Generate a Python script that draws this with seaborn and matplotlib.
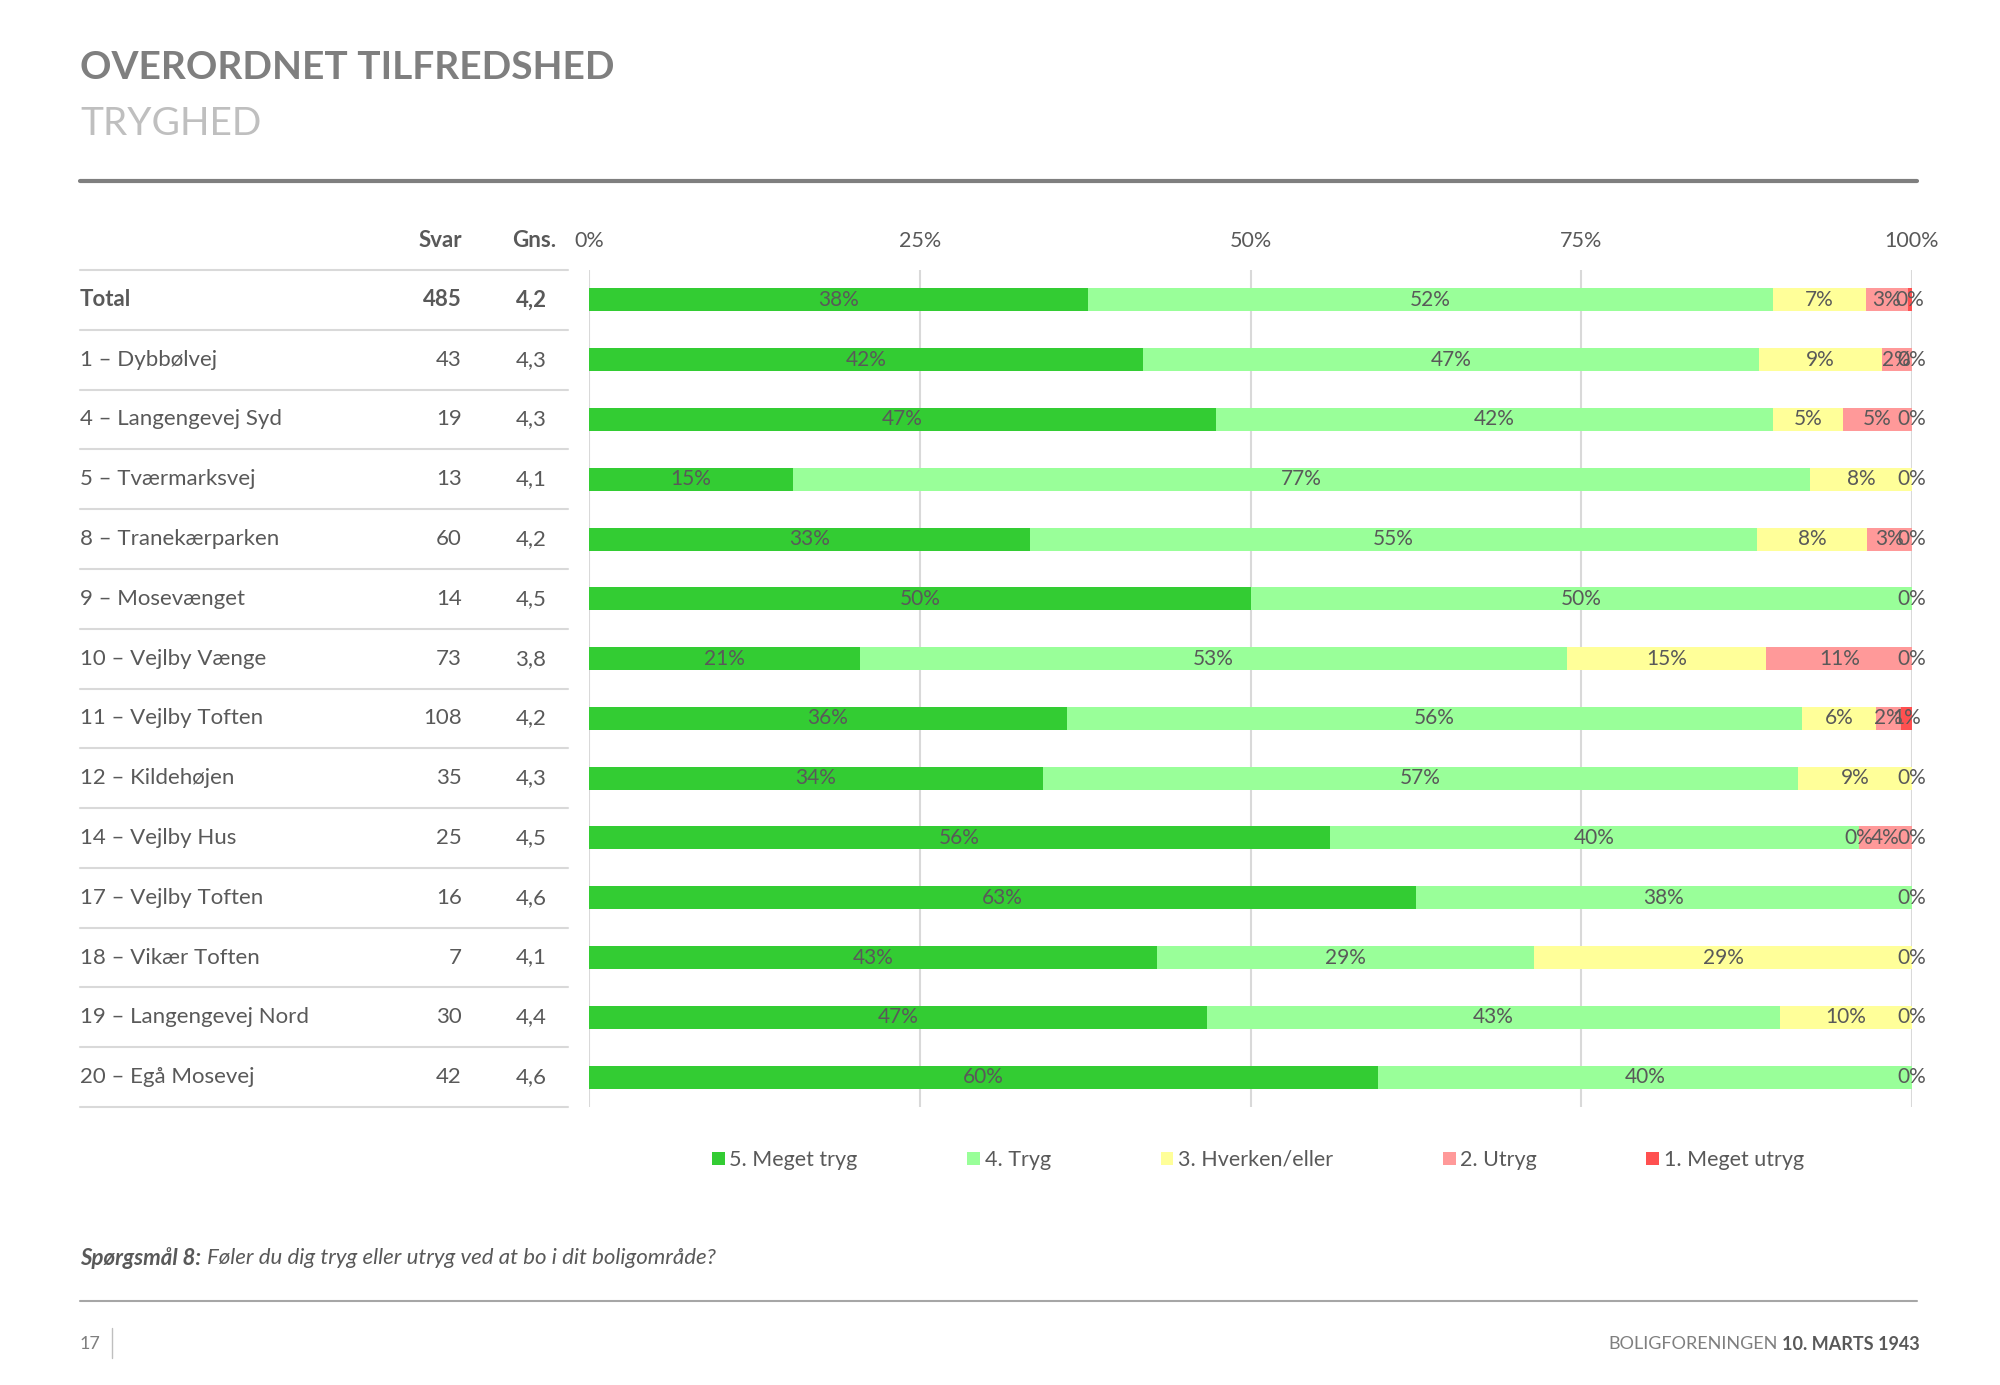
import numpy as np
import pandas as pd
import matplotlib
matplotlib.use("Agg")
import matplotlib.pyplot as plt
import seaborn as sns
from matplotlib.patches import Patch
from matplotlib.transforms import blended_transform_factory

# data
afdelinger = ["Total", "1 – Dybbølvej", "4 – Langengevej Syd", "5 – Tværmarksvej",
              "8 – Tranekærparken", "9 – Mosevænget", "10 – Vejlby Vænge",
              "11 – Vejlby Toften", "12 – Kildehøjen", "14 – Vejlby Hus",
              "17 – Vejlby Toften", "18 – Vikær Toften", "19 – Langengevej Nord",
              "20 – Egå Mosevej"]
svar = [485, 43, 19, 13, 60, 14, 73, 108, 35, 25, 16, 7, 30, 42]
gns = ["4,2", "4,3", "4,3", "4,1", "4,2", "4,5", "3,8", "4,2", "4,3", "4,5",
       "4,6", "4,1", "4,4", "4,6"]

meget_tryg = [37.7, 41.9, 47.4, 15.4, 33.3, 50.0, 20.5, 36.1, 34.3, 56.0, 62.5, 42.9, 46.7, 59.6]
tryg = [51.8, 46.5, 42.1, 76.9, 55.0, 50.0, 53.4, 55.6, 57.1, 40.0, 37.5, 28.55, 43.3, 40.4]
hverken = [7.0, 9.3, 5.3, 7.7, 8.3, 0.0, 15.1, 5.6, 8.6, 0.0, 0.0, 28.55, 10.0, 0.0]
utryg = [3.2, 2.3, 5.2, 0.0, 3.4, 0.0, 11.0, 1.9, 0.0, 4.0, 0.0, 0.0, 0.0, 0.0]
meget_utryg = [0.3, 0.0, 0.0, 0.0, 0.0, 0.0, 0.0, 0.8, 0.0, 0.0, 0.0, 0.0, 0.0, 0.0]

niveauer = ["5. Meget tryg", "4. Tryg", "3. Hverken/eller", "2. Utryg", "1. Meget utryg"]
farver = ["#33CC33", "#99FF99", "#FFFF99", "#FF9999", "#FF5050"]
x_ticks = [0, 25, 50, 75, 100]

df = pd.DataFrame({"afdeling": afdelinger})
for navn, vals in zip(niveauer, [meget_tryg, tryg, hverken, utryg, meget_utryg]):
    df[navn] = vals
cum = df[niveauer].cumsum(axis=1)

sns.set_theme(style="white")
plt.rcParams["font.family"] = ["Lato", "DejaVu Sans"]
tekst = "#595959"

W, H = 2000, 1385
fig = plt.figure(figsize=(20, 13.85), dpi=100)
ax = fig.add_axes([589 / W, 1 - 1107 / H, (1912 - 589) / W, (1107 - 270) / H])

# stacked bars: draw the cumulative totals from the back to the front
for navn, farve in reversed(list(zip(niveauer, farver))):
    sns.barplot(x=cum[navn], y=df["afdeling"], order=afdelinger, orient="h",
                color=farve, saturation=1, width=0.385, errorbar=None,
                linewidth=0, ax=ax)

ax.set_xlim(0, 100)
ax.set_ylim(len(afdelinger) - 0.5, -0.5)
ax.set_xticks(x_ticks)
ax.set_xticklabels([f"{t}%" for t in x_ticks])
ax.xaxis.tick_top()
ax.tick_params(axis="x", length=0, pad=14, labelsize=15.5, labelcolor=tekst)
ax.set_yticks([])
ax.set_xlabel("")
ax.set_ylabel("")
ax.grid(axis="x", color="#D9D9D9", lw=1.5)
ax.set_axisbelow(True)
for s in ax.spines.values():
    s.set_visible(False)

# segment labels (zero-width segments that land on the same spot share one label)
for i in range(len(afdelinger)):
    start = 0
    sat = set()
    for navn in niveauer:
        v = df.loc[i, navn]
        pos = round(start + v / 2, 2)
        lab = f"{int(np.floor(v + 0.5))}%"
        if (pos, lab) not in sat:
            ax.text(pos, i, lab, ha="center", va="center", fontsize=15, color=tekst)
            sat.add((pos, lab))
        start += v

# table on the left
tr = blended_transform_factory(fig.transFigure, ax.transData)
for k in range(len(afdelinger) + 1):
    ax.plot([80 / W, 568 / W], [k - 0.5, k - 0.5], transform=tr, color="#D9D9D9",
            lw=1.5, clip_on=False)
hy = -0.5 - 30 / 59.8
ax.text(462 / W, hy, "Svar", transform=tr, ha="right", va="center", fontsize=16,
        fontweight="bold", color=tekst)
ax.text(556 / W, hy, "Gns.", transform=tr, ha="right", va="center", fontsize=16,
        fontweight="bold", color=tekst)
for i, (navn, n, g) in enumerate(zip(afdelinger, svar, gns)):
    w = "bold" if i == 0 else "normal"
    ax.text(80 / W, i, navn, transform=tr, ha="left", va="center", fontsize=16,
            fontweight=w, color=tekst)
    ax.text(462 / W, i, str(n), transform=tr, ha="right", va="center", fontsize=16,
            fontweight=w, color=tekst)
    ax.text(531 / W, i, g, transform=tr, ha="center", va="center", fontsize=16,
            fontweight=w, color=tekst)

# legend
handles = [Patch(facecolor=f, edgecolor="none", label=n) for n, f in zip(niveauer, farver)]
fig.legend(handles=handles, loc="center", bbox_to_anchor=(1258 / W, 1 - 1160 / H),
           ncol=5, frameon=False, fontsize=15.5, handlelength=0.6, handleheight=0.6,
           handletextpad=0.2, columnspacing=5.1, labelcolor=tekst)

# header
fig.text(80 / W, 1 - 79 / H, "OVERORDNET TILFREDSHED", fontsize=28, fontweight="bold",
         color="#7F7F7F", va="baseline")
fig.text(80 / W, 1 - 135 / H, "TRYGHED", fontsize=28, color="#BFBFBF", va="baseline")
fig.add_artist(plt.Line2D([80 / W, 1917 / W], [1 - 181 / H, 1 - 181 / H],
                          color="#7F7F7F", lw=3))

# question and footer
r = fig.canvas.get_renderer()
q1 = fig.text(80 / W, 1 - 1258 / H, "Spørgsmål 8:", fontsize=16, fontweight="bold",
              style="italic", color=tekst, va="center")
bb = q1.get_window_extent(renderer=r)
fig.text(bb.x1 / W + 6 / W, 1 - 1258 / H, "Føler du dig tryg eller utryg ved at bo i dit boligområde?",
         fontsize=16, style="italic", color=tekst, va="center")
fig.add_artist(plt.Line2D([80 / W, 1917 / W], [1 - 1301 / H, 1 - 1301 / H],
                          color="#A6A6A6", lw=1.5))
fig.text(80 / W, 1 - 1344 / H, "17", fontsize=13, color="#7F7F7F", va="center")
fig.add_artist(plt.Line2D([112 / W, 112 / W], [1 - 1328 / H, 1 - 1358 / H],
                          color="#BFBFBF", lw=1))
f2 = fig.text(1920 / W, 1 - 1344 / H, "10. MARTS 1943", fontsize=13, fontweight="bold",
              color=tekst, ha="right", va="center")
bb = f2.get_window_extent(renderer=r)
fig.text(bb.x0 / W - 5 / W, 1 - 1344 / H, "BOLIGFORENINGEN", fontsize=13,
         color="#7F7F7F", ha="right", va="center")

fig.savefig("out.png", dpi=100)
